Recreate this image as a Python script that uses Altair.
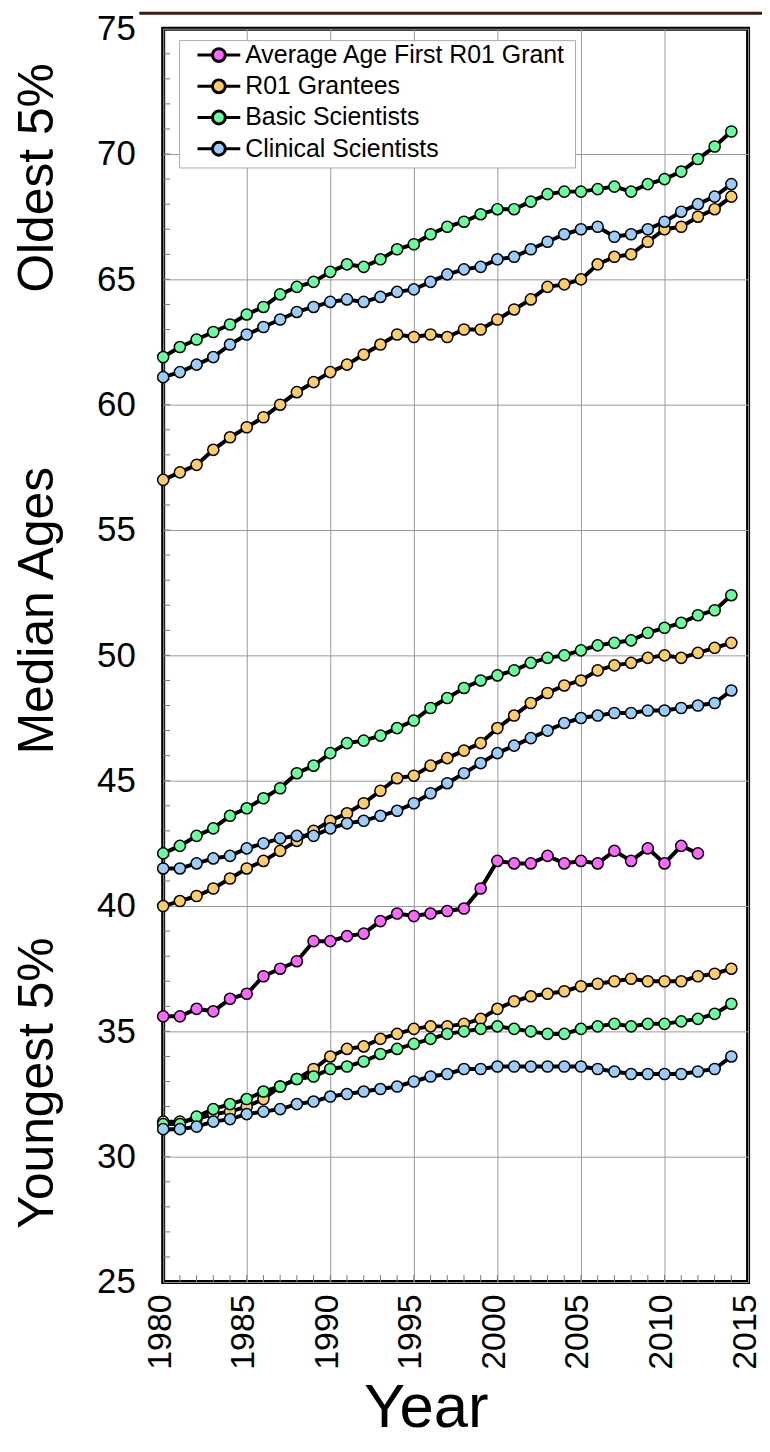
import altair as alt
import pandas as pd

FONT = "Liberation Sans"

years = list(range(1980, 2015))
first_r01_years = list(range(1980, 2013))

first_r01 = [35.6, 35.6, 35.9, 35.8, 36.3, 36.5, 37.2, 37.5, 37.8, 38.6,
             38.6, 38.8, 38.9, 39.4, 39.7, 39.6, 39.7, 39.8, 39.9, 40.7,
             41.8, 41.7, 41.7, 42.0, 41.7, 41.8, 41.7, 42.2, 41.8, 42.3,
             41.7, 42.4, 42.1]

r01_oldest = [57.0, 57.3, 57.6, 58.2, 58.7, 59.1, 59.5, 60.0, 60.5, 60.9,
              61.3, 61.6, 62.0, 62.4, 62.8, 62.7, 62.8, 62.7, 63.0, 63.0,
              63.4, 63.8, 64.2, 64.7, 64.8, 65.0, 65.6, 65.9, 66.0, 66.5,
              67.0, 67.1, 67.5, 67.8, 68.3]
r01_median = [40.0, 40.2, 40.4, 40.7, 41.1, 41.5, 41.8, 42.2, 42.6, 43.0,
              43.4, 43.7, 44.1, 44.6, 45.1, 45.2, 45.6, 45.9, 46.2, 46.5,
              47.1, 47.6, 48.1, 48.5, 48.8, 49.0, 49.4, 49.6, 49.7, 49.9,
              50.0, 49.9, 50.1, 50.3, 50.5]
r01_youngest = [31.4, 31.4, 31.5, 31.7, 31.8, 32.0, 32.3, 32.8, 33.1, 33.5,
                34.0, 34.3, 34.4, 34.7, 34.9, 35.1, 35.2, 35.2, 35.3, 35.5,
                35.9, 36.2, 36.4, 36.5, 36.6, 36.8, 36.9, 37.0, 37.1, 37.0,
                37.0, 37.0, 37.2, 37.3, 37.5]

basic_oldest = [61.9, 62.3, 62.6, 62.9, 63.2, 63.6, 63.9, 64.4, 64.7, 64.9,
                65.3, 65.6, 65.5, 65.8, 66.2, 66.4, 66.8, 67.1, 67.3, 67.6,
                67.8, 67.8, 68.1, 68.4, 68.5, 68.5, 68.6, 68.7, 68.5, 68.8,
                69.0, 69.3, 69.8, 70.3, 70.9]
basic_median = [42.1, 42.4, 42.8, 43.1, 43.6, 43.9, 44.3, 44.7, 45.3, 45.6,
                46.1, 46.5, 46.6, 46.8, 47.1, 47.4, 47.9, 48.3, 48.7, 49.0,
                49.2, 49.4, 49.7, 49.9, 50.0, 50.2, 50.4, 50.5, 50.6, 50.9,
                51.1, 51.3, 51.6, 51.8, 52.4]
basic_youngest = [31.3, 31.3, 31.6, 31.9, 32.1, 32.3, 32.6, 32.8, 33.1, 33.2,
                  33.5, 33.6, 33.8, 34.1, 34.3, 34.5, 34.7, 34.9, 35.0, 35.1,
                  35.2, 35.1, 35.0, 34.9, 34.9, 35.1, 35.2, 35.3, 35.2, 35.3,
                  35.3, 35.4, 35.5, 35.7, 36.1]

clin_oldest = [61.1, 61.3, 61.6, 61.9, 62.4, 62.8, 63.1, 63.4, 63.7, 63.9,
               64.1, 64.2, 64.1, 64.3, 64.5, 64.6, 64.9, 65.2, 65.4, 65.5,
               65.8, 65.9, 66.2, 66.5, 66.8, 67.0, 67.1, 66.7, 66.8, 67.0,
               67.3, 67.7, 68.0, 68.3, 68.8]
clin_median = [41.5, 41.5, 41.7, 41.9, 42.0, 42.3, 42.5, 42.7, 42.8, 42.8,
               43.1, 43.3, 43.4, 43.6, 43.8, 44.1, 44.5, 44.9, 45.3, 45.7,
               46.1, 46.4, 46.7, 47.0, 47.3, 47.5, 47.6, 47.7, 47.7, 47.8,
               47.8, 47.9, 48.0, 48.1, 48.6]
clin_youngest = [31.1, 31.1, 31.2, 31.4, 31.5, 31.7, 31.8, 31.9, 32.1, 32.2,
                 32.4, 32.5, 32.6, 32.7, 32.8, 33.0, 33.2, 33.3, 33.5, 33.5,
                 33.6, 33.6, 33.6, 33.6, 33.6, 33.6, 33.5, 33.4, 33.3, 33.3,
                 33.3, 33.3, 33.4, 33.5, 34.0]

series_names = ["Average Age First R01 Grant", "R01 Grantees",
                "Basic Scientists", "Clinical Scientists"]
series_colors = ["#ff66ff", "#ffcc66", "#66ff99", "#99ccff"]

x_ticks = [1980, 1985, 1990, 1995, 2000, 2005, 2010, 2015]
y_ticks = [25, 30, 35, 40, 45, 50, 55, 60, 65, 70, 75]
x_minor = list(range(1981, 2015))
y_minor = list(range(26, 75))
side_labels = ["Oldest 5%", "Median Ages", "Youngest 5%"]


def frame(name, group, xs, ys):
    return pd.DataFrame({"year": xs, "age": ys, "series": name,
                         "line": name + "|" + group})


series_frames = [
    pd.concat([frame(series_names[0], "first", first_r01_years, first_r01)]),
    pd.concat([frame(series_names[1], "old", years, r01_oldest),
               frame(series_names[1], "med", years, r01_median),
               frame(series_names[1], "young", years, r01_youngest)]),
    pd.concat([frame(series_names[2], "old", years, basic_oldest),
               frame(series_names[2], "med", years, basic_median),
               frame(series_names[2], "young", years, basic_youngest)]),
    pd.concat([frame(series_names[3], "old", years, clin_oldest),
               frame(series_names[3], "med", years, clin_median),
               frame(series_names[3], "young", years, clin_youngest)]),
]

x_enc = alt.X(
    "year:Q",
    scale=alt.Scale(domain=[1980, 2015], nice=False, zero=False),
    axis=alt.Axis(values=x_ticks, format="d", labelAngle=-90, labelFontSize=34,
                  labelFont=FONT, labelColor="black", labelPadding=12,
                  labelOffset=-3,
                  ticks=False, domain=False, grid=True, gridColor="#999999",
                  gridWidth=1, title="Year", titleFontSize=62, titleFont=FONT,
                  titleFontWeight="normal", titleColor="black", titleX=264,
                  titleY=145, titleBaseline="alphabetic"),
)
y_enc = alt.Y(
    "age:Q",
    scale=alt.Scale(domain=[25, 75], nice=False, zero=False),
    axis=alt.Axis(values=y_ticks, labelFontSize=35, labelFont=FONT,
                  labelColor="black", labelPadding=28, ticks=False,
                  domain=False, grid=True, gridColor="#999999", gridWidth=1,
                  title=None),
)

legend_symbol = ("M-2,0L-0.6,0M0.6,0L2,0M0.6,0A0.6,0.6,0,1,1,-0.6,0"
                 "A0.6,0.6,0,1,1,0.6,0Z")

fill_enc = alt.Fill(
    "series:N",
    scale=alt.Scale(domain=series_names, range=series_colors),
    legend=alt.Legend(title=None, orient="none", legendX=16.5, legendY=14,
                      symbolType=legend_symbol, symbolSize=462,
                      symbolStrokeColor="black", symbolStrokeWidth=3,
                      symbolOffset=27, labelOffset=14, labelFontSize=25,
                      labelFont=FONT, labelColor="black", labelLimit=600,
                      rowPadding=5.4, padding=0),
)

one = pd.DataFrame({"k": [0]})

brown_bar = alt.Chart(one).mark_rect(color="#3d1a12").encode(
    x=alt.value(-24), x2=alt.value(606), y=alt.value(-17), y2=alt.value(-14))

legend_box = alt.Chart(one).mark_rect(fill="white", stroke="#aaaaaa",
                                      strokeWidth=1).encode(
    x=alt.value(16.5), x2=alt.value(414.5), y=alt.value(12), y2=alt.value(140))

x_minor_ticks = alt.Chart(pd.DataFrame({"year": x_minor})).mark_rule(
    color="#777777", strokeWidth=1).encode(
    x=x_enc, y=alt.value(1260), y2=alt.value(1253))
y_minor_ticks = alt.Chart(pd.DataFrame({"age": y_minor})).mark_rule(
    color="#777777", strokeWidth=1).encode(
    y=y_enc, x=alt.value(0), x2=alt.value(7))

layers = [brown_bar, legend_box, x_minor_ticks, y_minor_ticks]
for df in series_frames:
    base = alt.Chart(df)
    layers.append(base.mark_line(color="black", strokeWidth=4).encode(
        x=x_enc, y=y_enc, detail="line:N", order="year:Q"))
    layers.append(base.mark_point(shape="circle", filled=True, size=125,
                                  stroke="black", strokeWidth=1.5,
                                  opacity=1).encode(
        x=x_enc, y=y_enc, fill=fill_enc))

side_y = [150, 585, 1060]
for text, yy in zip(side_labels, side_y):
    layers.append(alt.Chart(one).mark_text(
        angle=270, fontSize=50, font=FONT, align="center",
        baseline="alphabetic", color="black").encode(
        x=alt.value(-111), y=alt.value(yy), text=alt.value(text)))

chart = alt.layer(*layers).properties(
    width=588, height=1260,
    padding={"left": 156, "top": 17, "right": 14, "bottom": 159},
    autosize="none",
).configure_view(stroke="black", strokeWidth=4)

chart.save("out.html", embed_options={"renderer": "svg", "actions": False})
